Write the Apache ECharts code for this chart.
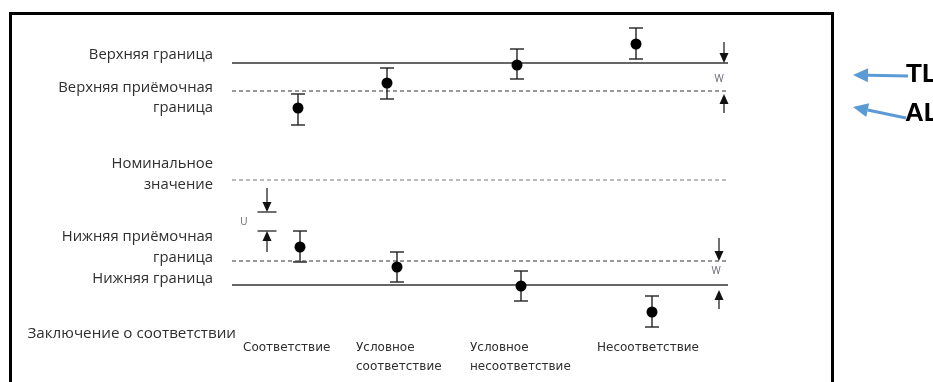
<!DOCTYPE html>
<html>
<head>
<meta charset="utf-8">
<script src="https://cdn.jsdelivr.net/npm/echarts@6/dist/echarts.min.js"></script>
<style>html,body{margin:0;padding:0;background:#fff}#c{width:933px;height:382px}</style>
</head>
<body>
<div id="c"></div>
<script>
// ---- data (value units) ----
const limitNames = ['upperTL', 'upperAL', 'nominal', 'lowerAL', 'lowerTL'];
const limitValues = [11.7, 8.9, 0, -8.1, -10.5];
const lineStart = 23.2, lineEnd = 72.8;

const upperX = [29.8, 38.7, 51.7, 63.6];
const upperY = [7.2, 9.7, 11.5, 13.6];
const upperLow = [5.5, 8.1, 10.1, 12.1];
const upperHigh = [8.6, 11.2, 13.1, 15.2];

const lowerX = [30.0, 39.7, 52.1, 65.2];
const lowerY = [-6.7, -8.7, -10.6, -13.2];
const lowerLow = [-8.2, -10.2, -12.1, -14.7];
const lowerHigh = [-5.1, -7.2, -9.1, -11.6];

// arrows: x, tail, tip, cap(1/0)
const arrowX = [72.4, 72.4, 71.9, 71.9, 26.7, 26.7];
const arrowTail = [13.8, 6.7, -5.8, -12.9, -0.8, -7.2];
const arrowTip = [11.7, 8.6, -8.1, -11.0, -3.2, -5.1];
const arrowCap = [0, 0, 0, 0, 1, 1];

const leftLabels = ['Верхняя граница', 'Верхняя приёмочная', 'граница', 'Номинальное', 'значение', 'Нижняя приёмочная', 'граница', 'Нижняя граница'];
const conclusionTitle = 'Заключение о соответствии';
const categories = ['Соответствие', 'Условное\nсоответствие', 'Условное\nнесоответствие', 'Несоответствие'];
const markW = 'W', markU = 'U';
const sideLabels = ['TL', 'AL'];

// ---- layout ----
const leftLabelY = [55, 88, 108, 164, 185, 237, 258, 279];
const catX = [243, 356, 470, 597];

const chart = echarts.init(document.getElementById('c'), null, {renderer: 'canvas'});
const textColor = '#2e2e2e';
const font = '"Open Sans", "Noto Sans", sans-serif';

const lineSeries = limitValues.map((v, i) => ({
  type: 'line', name: limitNames[i], symbol: 'none', silent: true,
  data: [[lineStart, v], [lineEnd, v]],
  lineStyle: (i === 0 || i === 4)
    ? {color: '#333', width: 1.3, type: 'solid'}
    : {color: i === 2 ? '#777' : '#333', width: 1.2, type: [4, 3]},
  z: 2
}));

function errRender(params, api) {
  const x = api.value(0);
  const lo = api.coord([x, api.value(1)]);
  const hi = api.coord([x, api.value(2)]);
  const st = {stroke: '#222', lineWidth: 1.4};
  return {type: 'group', children: [
    {type: 'line', shape: {x1: lo[0], y1: lo[1], x2: hi[0], y2: hi[1]}, style: st},
    {type: 'line', shape: {x1: lo[0] - 7, y1: lo[1], x2: lo[0] + 7, y2: lo[1]}, style: st},
    {type: 'line', shape: {x1: hi[0] - 7, y1: hi[1], x2: hi[0] + 7, y2: hi[1]}, style: st}
  ]};
}

function arrowRender(params, api) {
  const x = api.value(0);
  const t = api.coord([x, api.value(1)]);
  const p = api.coord([x, api.value(2)]);
  const cap = api.value(3);
  const dir = p[1] > t[1] ? 1 : -1;
  const st = {stroke: '#222', lineWidth: 1.3};
  const ch = [
    {type: 'line', shape: {x1: t[0], y1: t[1], x2: p[0], y2: p[1] - dir * 6}, style: st},
    {type: 'polygon', shape: {points: [[p[0], p[1]], [p[0] - 4.5, p[1] - dir * 10], [p[0] + 4.5, p[1] - dir * 10]]}, style: {fill: '#111'}}
  ];
  if (cap) ch.push({type: 'line', shape: {x1: p[0] - 9.5, y1: p[1], x2: p[0] + 9.5, y2: p[1]}, style: st});
  return {type: 'group', children: ch};
}

function blueArrow(x1, y1, x2, y2) {
  const ang = Math.atan2(y2 - y1, x2 - x1);
  const L = 15, W = 7;
  const bx = x2 - Math.cos(ang) * L, by = y2 - Math.sin(ang) * L;
  const nx = -Math.sin(ang) * W, ny = Math.cos(ang) * W;
  return [
    {type: 'line', shape: {x1: x1, y1: y1, x2: bx, y2: by}, style: {stroke: '#5b9bd5', lineWidth: 3}},
    {type: 'polygon', shape: {points: [[x2, y2], [bx + nx, by + ny], [bx - nx, by - ny]]}, style: {fill: '#5b9bd5'}}
  ];
}

const graphics = [
  {type: 'rect', shape: {x: 10.5, y: 13.5, width: 822, height: 420}, style: {fill: 'none', stroke: '#000', lineWidth: 3}, z: 0}
];
leftLabels.forEach((t, i) => graphics.push({type: 'text', x: 213, y: leftLabelY[i], style: {text: t, fill: textColor, font: '14.8px ' + font, textAlign: 'right', textVerticalAlign: 'middle'}}));
graphics.push({type: 'text', x: 236, y: 334, style: {text: conclusionTitle, fill: textColor, font: '15.2px ' + font, textAlign: 'right', textVerticalAlign: 'middle'}});
categories.forEach((t, i) => graphics.push({type: 'text', x: catX[i], y: 338, style: {text: t, fill: textColor, font: '12px "DejaVu Sans", sans-serif', textAlign: 'left', textVerticalAlign: 'top', lineHeight: 19}}));
graphics.push({type: 'text', x: 719, y: 79, style: {text: markW, fill: '#6b6470', font: '10px ' + font, textAlign: 'center', textVerticalAlign: 'middle'}});
graphics.push({type: 'text', x: 716, y: 271, style: {text: markW, fill: '#6b6470', font: '10px ' + font, textAlign: 'center', textVerticalAlign: 'middle'}});
graphics.push({type: 'text', x: 244, y: 222, style: {text: markU, fill: '#6b6470', font: '10px ' + font, textAlign: 'center', textVerticalAlign: 'middle'}});
graphics.push(...blueArrow(908, 76, 853, 75));
graphics.push(...blueArrow(906, 118, 853, 107));
graphics.push({type: 'text', x: 906, y: 75, style: {text: sideLabels[0], fill: '#000', font: 'bold 26px "Liberation Sans", sans-serif', textAlign: 'left', textVerticalAlign: 'middle'}});
graphics.push({type: 'text', x: 905, y: 114, style: {text: sideLabels[1], fill: '#000', font: 'bold 26px "Liberation Sans", sans-serif', textAlign: 'left', textVerticalAlign: 'middle'}});

chart.setOption({
  animation: false,
  backgroundColor: '#fff',
  grid: {left: 0, right: 0, top: 0, bottom: 0},
  xAxis: {type: 'value', min: 0, max: 93.3, show: false},
  yAxis: {type: 'value', min: -20.2, max: 18, show: false},
  graphic: graphics,
  series: [
    ...lineSeries,
    {type: 'custom', name: 'upperErr', renderItem: errRender, data: upperX.map((x, i) => [x, upperLow[i], upperHigh[i]]), z: 3},
    {type: 'custom', name: 'lowerErr', renderItem: errRender, data: lowerX.map((x, i) => [x, lowerLow[i], lowerHigh[i]]), z: 3},
    {type: 'scatter', name: 'upper', symbolSize: 11, itemStyle: {color: '#000', opacity: 1}, data: upperX.map((x, i) => [x, upperY[i]]), z: 4},
    {type: 'scatter', name: 'lower', symbolSize: 11, itemStyle: {color: '#000', opacity: 1}, data: lowerX.map((x, i) => [x, lowerY[i]]), z: 4},
    {type: 'custom', name: 'arrows', renderItem: arrowRender, data: arrowX.map((x, i) => [x, arrowTail[i], arrowTip[i], arrowCap[i]]), z: 3}
  ]
});
</script>
</body>
</html>
